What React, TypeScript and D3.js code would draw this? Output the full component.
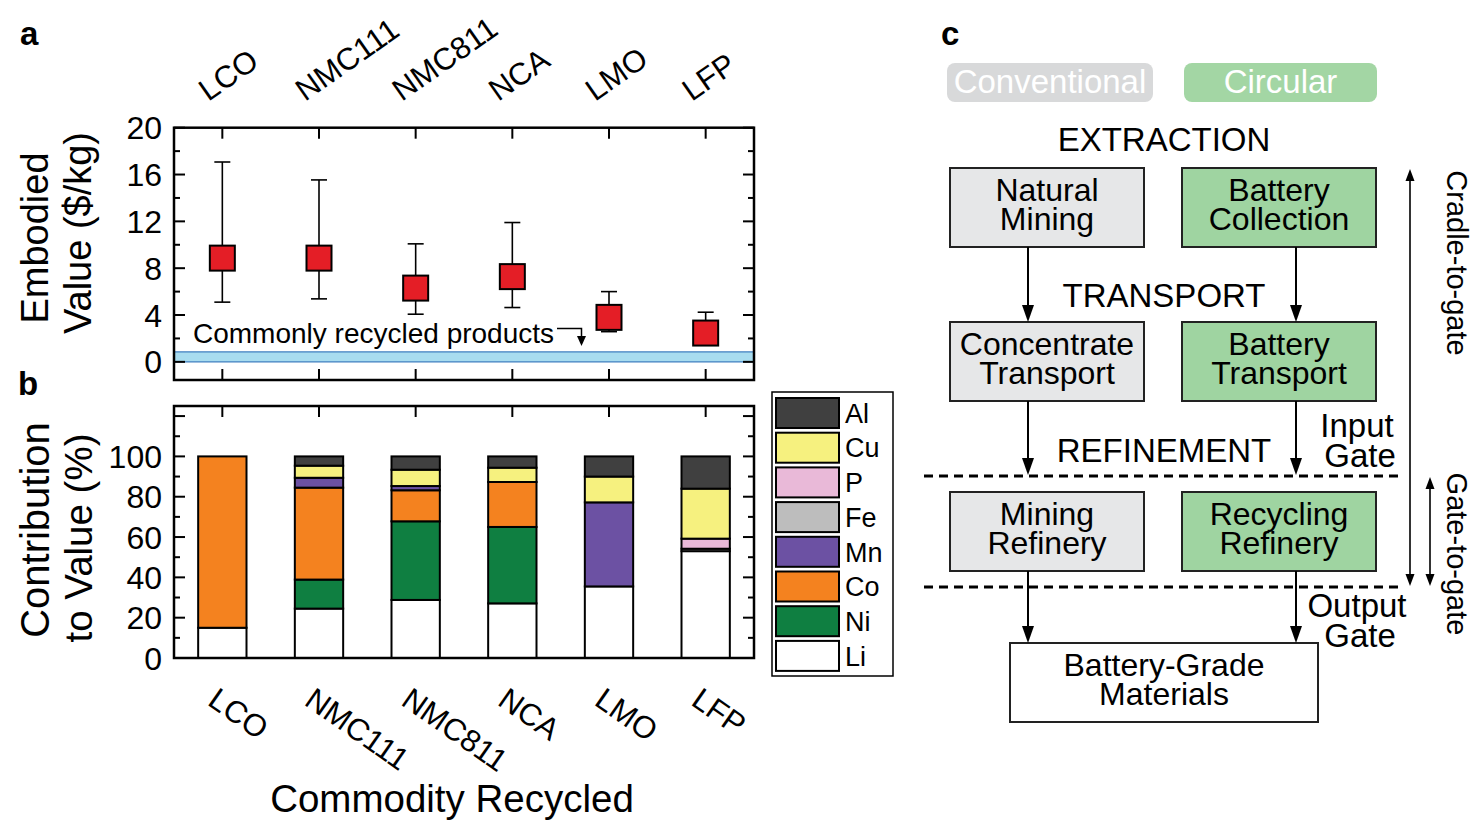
import React, { useEffect, useRef } from 'react'
import * as d3 from 'd3'

const width = 1482
const height = 832
const font = "'Liberation Sans', Arial, Helvetica, sans-serif"

// panel a: embodied value ($/kg) per chemistry
const categories = ['LCO', 'NMC111', 'NMC811', 'NCA', 'LMO', 'LFP']
const medianValue = [8.86, 8.86, 6.3, 7.28, 3.8, 2.46]
const upperValue = [17.07, 15.54, 10.08, 11.9, 6.0, 4.24]
const lowerValue = [5.1, 5.38, 4.07, 4.64, 2.58, 1.55]
const recycledRange = [0, 0.85]
const yTicksA = [0, 4, 8, 12, 16, 20]
const yMinorA = [2, 6, 10, 14, 18]

// panel b: contribution to value (%) per element
const elements = ['Li', 'Ni', 'Co', 'Mn', 'Fe', 'P', 'Cu', 'Al']
const elementColors = ['#ffffff', '#0f7f41', '#f4821f', '#6c51a3', '#bdbdbd', '#e9b9d8', '#f6f17f', '#404040']
const liShare = [15, 24.5, 28.8, 27.1, 35.5, 53]
const niShare = [0, 14.4, 39, 37.9, 0, 0]
const coShare = [85, 45.6, 15.4, 22.3, 0, 0]
const mnShare = [0, 4.9, 2.1, 0, 41.7, 0]
const feShare = [0, 0, 0, 0, 0, 1.2]
const pShare = [0, 0, 0, 0, 0, 5]
const cuShare = [0, 6, 8.1, 7.1, 12.8, 24.8]
const alShare = [0, 4.6, 6.6, 5.6, 10, 16]
const yTicksB = [0, 20, 40, 60, 80, 100]
const yMinorB = [10, 30, 50, 70, 90, 110]

// panel c: flow chart texts
const pillLabels = ['Conventional', 'Circular']
const stageLabels = ['EXTRACTION', 'TRANSPORT', 'REFINEMENT']
const conventionalSteps = [['Natural', 'Mining'], ['Concentrate', 'Transport'], ['Mining', 'Refinery']]
const circularSteps = [['Battery', 'Collection'], ['Battery', 'Transport'], ['Recycling', 'Refinery']]
const productLabel = ['Battery-Grade', 'Materials']

export default function App() {
  const svgRef = useRef<SVGSVGElement>(null)

  useEffect(() => {
    document.body.style.margin = '0'
    const svg = d3.select(svgRef.current)
    svg.selectAll('*').remove()
    svg.attr('width', width).attr('height', height).style('display', 'block').style('background', '#fff')
    const root = svg.append('g').attr('font-family', font)

    const left = 174
    const right = 754
    const x = d3.scaleBand<string>().domain(categories).range([left, right])
    const cx = (c: string) => (x(c) || 0) + x.bandwidth() / 2

    // ---------- panel a ----------
    const aTop = 127.7
    const aBottom = 380
    const yA = d3.scaleLinear().domain([-1.55, 20]).range([aBottom, aTop])
    const ga = root.append('g')

    ga.append('rect')
      .attr('x', left)
      .attr('y', yA(recycledRange[1]))
      .attr('width', right - left)
      .attr('height', yA(recycledRange[0]) - yA(recycledRange[1]))
      .attr('fill', '#a8dcef')
    ;[recycledRange[0], recycledRange[1]].forEach((v) =>
      ga.append('line').attr('x1', left).attr('x2', right).attr('y1', yA(v)).attr('y2', yA(v))
        .attr('stroke', '#3f7fbf').attr('stroke-width', 1.3),
    )

    const drawYTicks = (g: any, scale: any, major: number[], minor: number[]) => {
      major.forEach((v) => {
        g.append('line').attr('x1', left).attr('x2', left + 11).attr('y1', scale(v)).attr('y2', scale(v)).attr('stroke', '#000').attr('stroke-width', 2)
        g.append('line').attr('x1', right).attr('x2', right - 11).attr('y1', scale(v)).attr('y2', scale(v)).attr('stroke', '#000').attr('stroke-width', 2)
      })
      minor.forEach((v) => {
        g.append('line').attr('x1', left).attr('x2', left + 6).attr('y1', scale(v)).attr('y2', scale(v)).attr('stroke', '#000').attr('stroke-width', 2)
        g.append('line').attr('x1', right).attr('x2', right - 6).attr('y1', scale(v)).attr('y2', scale(v)).attr('stroke', '#000').attr('stroke-width', 2)
      })
    }
    const drawXTicks = (g: any, top: number, bottom: number) => {
      categories.forEach((c) => {
        g.append('line').attr('x1', cx(c)).attr('x2', cx(c)).attr('y1', top).attr('y2', top + 11).attr('stroke', '#000').attr('stroke-width', 2)
        g.append('line').attr('x1', cx(c)).attr('x2', cx(c)).attr('y1', bottom).attr('y2', bottom - 11).attr('stroke', '#000').attr('stroke-width', 2)
      })
    }
    drawYTicks(ga, yA, yTicksA, yMinorA)
    drawXTicks(ga, aTop, aBottom)

    ga.selectAll('text.ytick')
      .data(yTicksA)
      .enter()
      .append('text')
      .attr('class', 'ytick')
      .attr('x', 162)
      .attr('y', (d) => yA(d))
      .attr('dy', '0.36em')
      .attr('text-anchor', 'end')
      .attr('font-size', 32)
      .text((d) => d)

    ga.selectAll('text.xcat')
      .data(categories)
      .enter()
      .append('text')
      .attr('class', 'xcat')
      .attr('transform', (d) => `translate(${cx(d) - 14},102) rotate(-35)`)
      .attr('font-size', 31)
      .text((d) => d)

    // annotation
    ga.append('text').attr('x', 193).attr('y', 343).attr('font-size', 28).text('Commonly recycled products')
    ga.append('path').attr('d', 'M557,328.5 H581.5 V338').attr('fill', 'none').attr('stroke', '#000').attr('stroke-width', 1.5)
    ga.append('path').attr('d', 'M577,336 L586,336 L581.5,346 Z').attr('fill', '#000')

    // error bars + markers
    const ga2 = ga.append('g')
    categories.forEach((c, i) => {
      const px = cx(c)
      ga2.append('line').attr('x1', px).attr('x2', px).attr('y1', yA(upperValue[i])).attr('y2', yA(lowerValue[i])).attr('stroke', '#000').attr('stroke-width', 1.6)
      ;[upperValue[i], lowerValue[i]].forEach((v) =>
        ga2.append('line').attr('x1', px - 8).attr('x2', px + 8).attr('y1', yA(v)).attr('y2', yA(v)).attr('stroke', '#000').attr('stroke-width', 1.6),
      )
      ga2.append('rect').attr('x', px - 12.5).attr('y', yA(medianValue[i]) - 12.5).attr('width', 25).attr('height', 25)
        .attr('fill', '#e41e26').attr('stroke', '#000').attr('stroke-width', 2)
    })

    ga.append('rect').attr('x', left).attr('y', aTop).attr('width', right - left).attr('height', aBottom - aTop)
      .attr('fill', 'none').attr('stroke', '#000').attr('stroke-width', 2.5)

    // ---------- panel b ----------
    const bTop = 406
    const bBottom = 658
    const yB = d3.scaleLinear().domain([0, 125]).range([bBottom, bTop])
    const gb = root.append('g')
    drawYTicks(gb, yB, [...yTicksB, 120], yMinorB)
    drawXTicks(gb, bTop, bBottom)

    gb.selectAll('text.ytick')
      .data(yTicksB)
      .enter()
      .append('text')
      .attr('class', 'ytick')
      .attr('x', 162)
      .attr('y', (d) => yB(d))
      .attr('dy', '0.36em')
      .attr('text-anchor', 'end')
      .attr('font-size', 32)
      .text((d) => d)

    const shares = [liShare, niShare, coShare, mnShare, feShare, pShare, cuShare, alShare]
    const rows = categories.map((c, i) => {
      const row: Record<string, any> = { cat: c }
      elements.forEach((e, k) => (row[e] = shares[k][i]))
      return row
    })
    const stack = d3.stack<any>().keys(elements)(rows)
    const color = d3.scaleOrdinal<string, string>().domain(elements).range(elementColors)
    const barW = x.bandwidth() * 0.5
    stack.forEach((layer) => {
      gb.append('g')
        .selectAll('rect')
        .data(layer.filter((d) => d[1] - d[0] > 0))
        .enter()
        .append('rect')
        .attr('x', (d) => cx(d.data.cat) - barW / 2)
        .attr('y', (d) => yB(d[1]))
        .attr('width', barW)
        .attr('height', (d) => yB(d[0]) - yB(d[1]))
        .attr('fill', color(layer.key))
        .attr('stroke', '#000')
        .attr('stroke-width', 2)
    })

    gb.append('rect').attr('x', left).attr('y', bTop).attr('width', right - left).attr('height', bBottom - bTop)
      .attr('fill', 'none').attr('stroke', '#000').attr('stroke-width', 2.5)

    gb.selectAll('text.xcat')
      .data(categories)
      .enter()
      .append('text')
      .attr('class', 'xcat')
      .attr('transform', (d) => `translate(${cx(d) - 16},704) rotate(35)`)
      .attr('font-size', 31)
      .text((d) => d)

    gb.append('text').attr('x', 452).attr('y', 812).attr('text-anchor', 'middle').attr('font-size', 38.5).text('Commodity Recycled')

    // legend
    const legend = gb.append('g')
    legend.append('rect').attr('x', 772).attr('y', 392).attr('width', 121).attr('height', 284)
      .attr('fill', '#fff').attr('stroke', '#000').attr('stroke-width', 1.5)
    const legendOrder = elements.slice().reverse()
    legendOrder.forEach((e, i) => {
      const ly = 398 + i * 34.7
      legend.append('rect').attr('x', 776).attr('y', ly).attr('width', 63).attr('height', 30)
        .attr('fill', color(e)).attr('stroke', '#000').attr('stroke-width', 2)
      legend.append('text').attr('x', 845).attr('y', ly + 15).attr('dy', '0.36em').attr('font-size', 27).text(e)
    })

    // axis titles
    const yTitle = (tx: number, ty: number, label: string, size: number) =>
      root.append('text').attr('transform', `translate(${tx},${ty}) rotate(-90)`).attr('text-anchor', 'middle').attr('font-size', size).text(label)
    yTitle(48, 238, 'Embodied', 38)
    yTitle(91, 233, 'Value ($/kg)', 38)
    yTitle(49, 530, 'Contribution', 40)
    yTitle(92, 538, 'to Value (%)', 38.5)

    // panel letters
    const letter = (tx: number, ty: number, l: string) =>
      root.append('text').attr('x', tx).attr('y', ty).attr('font-size', 33).attr('font-weight', 'bold').text(l)
    letter(20, 45, 'a')
    letter(18, 395, 'b')
    letter(941, 45, 'c')

    // ---------- panel c ----------
    const gc = root.append('g')
    const colX = [950, 1182]
    const boxW = 194
    const rowY = [168, 322, 492]
    const boxH = 79
    const arrowX = [1028, 1296]
    const fills = ['#e6e7e8', '#9fd4a1']

    const pillX = [947, 1184]
    const pillW = [206, 193]
    const pillFill = ['#d8d9da', '#a3d6a4']
    pillLabels.forEach((p, i) => {
      gc.append('rect').attr('x', pillX[i]).attr('y', 63).attr('width', pillW[i]).attr('height', 39).attr('rx', 8)
        .attr('fill', pillFill[i])
      gc.append('text').attr('x', pillX[i] + pillW[i] / 2).attr('y', 93).attr('text-anchor', 'middle')
        .attr('font-size', 33).attr('fill', '#fff').text(p)
    })

    const stageY = [151, 307, 462]
    stageLabels.forEach((s, i) => {
      gc.append('text').attr('x', 1164).attr('y', stageY[i]).attr('text-anchor', 'middle').attr('font-size', 33).text(s)
    })

    const drawBox = (bx: number, by: number, bw: number, fill: string, lines: string[]) => {
      gc.append('rect').attr('x', bx).attr('y', by).attr('width', bw).attr('height', boxH)
        .attr('fill', fill).attr('stroke', '#222').attr('stroke-width', 2)
      lines.forEach((t, k) => {
        gc.append('text').attr('x', bx + bw / 2).attr('y', by + 33 + k * 29).attr('text-anchor', 'middle').attr('font-size', 32).text(t)
      })
    }
    ;[conventionalSteps, circularSteps].forEach((steps, col) => {
      steps.forEach((lines, r) => drawBox(colX[col], rowY[r], boxW, fills[col], lines))
    })
    drawBox(1010, 643, 308, '#ffffff', productLabel)

    const head = (hx: number, hy: number, dir: number, w: number, l: number) =>
      gc.append('path').attr('d', `M${hx - w / 2},${hy - dir * l} L${hx + w / 2},${hy - dir * l} L${hx},${hy} Z`).attr('fill', '#000')
    const arrow = (ax: number, y1: number, y2: number) => {
      gc.append('line').attr('x1', ax).attr('x2', ax).attr('y1', y1).attr('y2', y2 - 10).attr('stroke', '#000').attr('stroke-width', 2)
      head(ax, y2, 1, 12, 17)
    }
    arrowX.forEach((ax) => {
      arrow(ax, rowY[0] + boxH, rowY[1])
      arrow(ax, rowY[1] + boxH, 475)
      arrow(ax, rowY[2] + boxH, 643)
    })

    ;[476, 587].forEach((dy) =>
      gc.append('line').attr('x1', 924).attr('x2', 1404).attr('y1', dy).attr('y2', dy)
        .attr('stroke', '#000').attr('stroke-width', 3).attr('stroke-dasharray', '9 6'),
    )

    gc.append('text').attr('x', 1357).attr('y', 437).attr('text-anchor', 'middle').attr('font-size', 33).text('Input')
    gc.append('text').attr('x', 1360).attr('y', 467).attr('text-anchor', 'middle').attr('font-size', 33).text('Gate')
    gc.append('text').attr('x', 1357).attr('y', 617).attr('text-anchor', 'middle').attr('font-size', 33).text('Output')
    gc.append('text').attr('x', 1360).attr('y', 647).attr('text-anchor', 'middle').attr('font-size', 33).text('Gate')

    const doubleArrow = (ax: number, y1: number, y2: number) => {
      gc.append('line').attr('x1', ax).attr('x2', ax).attr('y1', y1 + 8).attr('y2', y2 - 8).attr('stroke', '#000').attr('stroke-width', 1.6)
      head(ax, y1, -1, 9, 12)
      head(ax, y2, 1, 9, 12)
    }
    doubleArrow(1410, 169, 586)
    doubleArrow(1430, 477, 586)

    gc.append('text').attr('transform', 'translate(1447,263) rotate(90)').attr('text-anchor', 'middle').attr('font-size', 29).text('Cradle-to-gate')
    gc.append('text').attr('transform', 'translate(1447,554) rotate(90)').attr('text-anchor', 'middle').attr('font-size', 29).text('Gate-to-gate')
  }, [])

  return <svg ref={svgRef} />
}
